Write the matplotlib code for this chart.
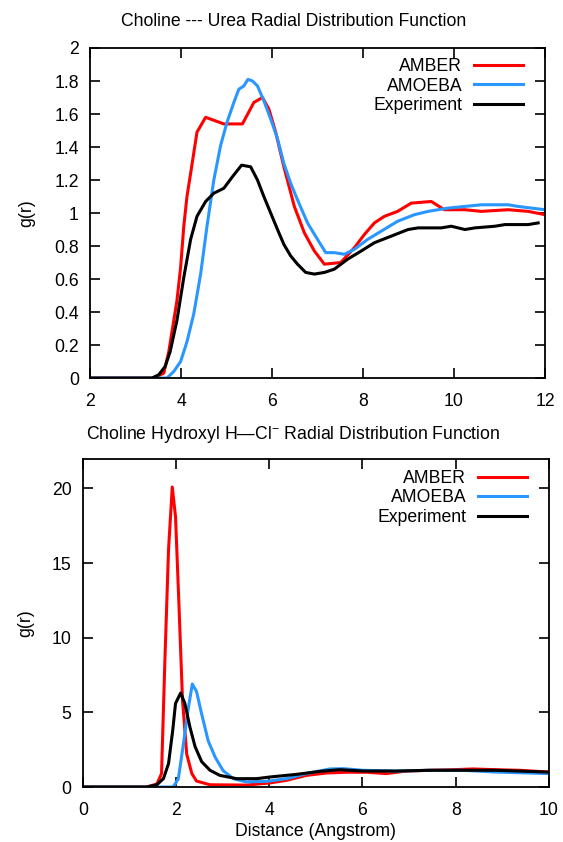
import matplotlib
matplotlib.use("Agg")
import matplotlib.pyplot as plt

plt.rcParams['font.family'] = ['Liberation Sans', 'DejaVu Sans']
plt.rcParams['mathtext.fontset'] = 'custom'
plt.rcParams['mathtext.rm'] = 'Liberation Sans'
plt.rcParams['mathtext.it'] = 'Liberation Sans'

RED = '#ff0000'
BLUE = '#2a96ff'
BLACK = '#000000'

# ---- Top panel: Choline --- Urea ----
amber1_x = [2.0, 3.4, 3.62, 3.73, 3.91, 3.99, 4.06, 4.13, 4.21, 4.35, 4.54, 4.94, 5.35, 5.6, 5.79, 5.93,
            6.08, 6.26, 6.49, 6.71, 6.93, 7.15, 7.51, 7.81, 8.03, 8.25, 8.47, 8.76, 9.06, 9.5, 9.79,
            10.24, 10.6, 11.19, 11.63, 12.0]
amber1_y = [0.0, 0.0, 0.03, 0.16, 0.47, 0.67, 0.92, 1.10, 1.24, 1.49, 1.58, 1.54, 1.54, 1.67, 1.70, 1.63,
            1.49, 1.28, 1.04, 0.88, 0.77, 0.69, 0.70, 0.79, 0.87, 0.94, 0.98, 1.01, 1.06, 1.07, 1.02,
            1.02, 1.01, 1.02, 1.01, 0.99]

amoeba1_x = [2.0, 3.69, 3.84, 3.99, 4.13, 4.28, 4.43, 4.57, 4.72, 4.87, 5.01, 5.16, 5.27, 5.38, 5.47,
             5.57, 5.68, 5.82, 5.97, 6.12, 6.26, 6.41, 6.56, 6.78, 7.0, 7.18, 7.37, 7.59, 7.81, 8.1,
             8.4, 8.76, 9.13, 9.43, 9.87, 10.24, 10.6, 10.97, 11.19, 11.41, 11.7, 12.0]
amoeba1_y = [0.0, 0.0, 0.04, 0.10, 0.22, 0.39, 0.63, 0.92, 1.20, 1.41, 1.55, 1.67, 1.75, 1.77, 1.81,
             1.80, 1.77, 1.68, 1.57, 1.45, 1.30, 1.18, 1.08, 0.94, 0.84, 0.76, 0.76, 0.75, 0.78, 0.84,
             0.89, 0.95, 0.99, 1.01, 1.03, 1.04, 1.05, 1.05, 1.05, 1.04, 1.03, 1.02]

exp1_x = [2.0, 3.36, 3.51, 3.65, 3.76, 3.91, 4.06, 4.21, 4.35, 4.54, 4.72, 4.94, 5.13, 5.33, 5.53, 5.68,
          5.82, 5.97, 6.12, 6.26, 6.41, 6.56, 6.74, 6.93, 7.15, 7.37, 7.66, 7.96, 8.25, 8.62, 8.99,
          9.21, 9.72, 9.94, 10.24, 10.46, 10.9, 11.12, 11.63, 11.85]
exp1_y = [0.0, 0.0, 0.02, 0.07, 0.16, 0.35, 0.61, 0.84, 0.98, 1.07, 1.12, 1.15, 1.22, 1.29, 1.28, 1.20,
          1.10, 1.00, 0.90, 0.81, 0.74, 0.69, 0.64, 0.63, 0.64, 0.66, 0.72, 0.77, 0.82, 0.86, 0.90,
          0.91, 0.91, 0.92, 0.90, 0.91, 0.92, 0.93, 0.93, 0.94]

# ---- Bottom panel: Choline Hydroxyl H -- Cl- ----
amber2_x = [0.0, 1.37, 1.59, 1.69, 1.76, 1.84, 1.92, 1.99, 2.06, 2.14, 2.23, 2.34, 2.44, 2.73, 3.51,
            4.01, 4.37, 4.8, 5.23, 5.66, 6.09, 6.51, 6.94, 7.44, 7.94, 8.37, 8.87, 9.37, 10.0]
amber2_y = [0.0, 0.0, 0.2, 0.9, 8.3, 15.9, 20.1, 18.1, 12.5, 5.8, 2.2, 0.9, 0.4, 0.15, 0.13,
            0.27, 0.45, 0.78, 0.94, 0.99, 0.99, 0.90, 1.07, 1.12, 1.16, 1.21, 1.16, 1.12, 1.0]

amoeba2_x = [0.0, 1.94, 2.05, 2.16, 2.26, 2.35, 2.44, 2.55, 2.69, 2.84, 3.01, 3.23, 3.51, 3.94, 4.37,
             4.8, 5.3, 5.59, 6.01, 6.73, 7.44, 8.16, 8.87, 10.0]
amoeba2_y = [0.0, 0.0, 0.56, 2.9, 5.2, 6.9, 6.4, 4.9, 3.1, 2.0, 1.1, 0.56, 0.34, 0.38, 0.56,
             0.9, 1.21, 1.23, 1.12, 1.07, 1.12, 1.12, 1.0, 0.9]

exp2_x = [0.0, 1.37, 1.59, 1.73, 1.84, 1.93, 1.99, 2.1, 2.19, 2.3, 2.41, 2.55, 2.73, 2.94, 3.3, 3.73,
          4.01, 4.59, 5.09, 5.51, 6.01, 6.73, 7.44, 8.16, 8.87, 10.0]
exp2_y = [0.0, 0.0, 0.15, 0.56, 1.57, 3.8, 5.6, 6.3, 5.6, 4.0, 2.7, 1.7, 1.12, 0.78, 0.56, 0.56,
          0.67, 0.85, 1.05, 1.16, 1.07, 1.07, 1.12, 1.12, 1.12, 1.0]

labels = ['AMBER', 'AMOEBA', 'Experiment']

FS = 12.7

fig = plt.figure(figsize=(5.63, 8.42), dpi=100)

ax1 = fig.add_axes([0.160, 0.551, 0.808, 0.392])
ax2 = fig.add_axes([0.147, 0.0653, 0.828, 0.390])

lw = 2.2
ax1.plot(amber1_x, amber1_y, color=RED, lw=lw, label=labels[0])
ax1.plot(amoeba1_x, amoeba1_y, color=BLUE, lw=lw, label=labels[1])
ax1.plot(exp1_x, exp1_y, color=BLACK, lw=lw, label=labels[2])
ax1.set_xlim(2, 12)
ax1.set_ylim(0, 2)
ax1.set_xticks([2, 4, 6, 8, 10, 12])
ax1.set_yticks([0, 0.2, 0.4, 0.6, 0.8, 1.0, 1.2, 1.4, 1.6, 1.8, 2.0])
ax1.set_yticklabels(['0', '0.2', '0.4', '0.6', '0.8', '1', '1.2', '1.4', '1.6', '1.8', '2'])
ax1.set_ylabel('g(r)', fontsize=FS)
ax1.yaxis.set_label_coords(-0.121, 0.5)
ax1.set_title('Choline --- Urea Radial Distribution Function', fontsize=FS, pad=16, x=0.448)

ax2.plot(amber2_x, amber2_y, color=RED, lw=lw, label=labels[0])
ax2.plot(amoeba2_x, amoeba2_y, color=BLUE, lw=lw, label=labels[1])
ax2.plot(exp2_x, exp2_y, color=BLACK, lw=lw, label=labels[2])
ax2.set_xlim(0, 10)
ax2.set_ylim(0, 22)
ax2.set_xticks([0, 2, 4, 6, 8, 10])
ax2.set_yticks([0, 5, 10, 15, 20])
ax2.set_ylabel('g(r)', fontsize=FS)
ax2.yaxis.set_label_coords(-0.103, 0.5)
ax2.set_xlabel('Distance (Angstrom)', fontsize=FS, labelpad=3)
ax2.set_title('Choline Hydroxyl H\u2014Cl$^{-}$ Radial Distribution Function', fontsize=FS, pad=14,
              x=0.451)

anchors = {ax1: (0.952, 0.970), ax2: (0.953, 0.966)}
for ax in (ax1, ax2):
    ax.tick_params(direction='in', top=True, right=True, length=7, width=1.2, labelsize=FS)
    ax.tick_params(axis='x', pad=11)
    ax.tick_params(axis='y', pad=8)
    for s in ax.spines.values():
        s.set_linewidth(1.3)
    leg = ax.legend(loc='upper right', bbox_to_anchor=anchors[ax], frameon=False, markerfirst=False,
                    fontsize=FS, handlelength=2.8, handletextpad=0.65, labelspacing=0.15,
                    borderaxespad=0.0, borderpad=0.0)
    for t in leg.get_texts():
        t.set_ha('right')

fig.savefig('out.png', dpi=100)
